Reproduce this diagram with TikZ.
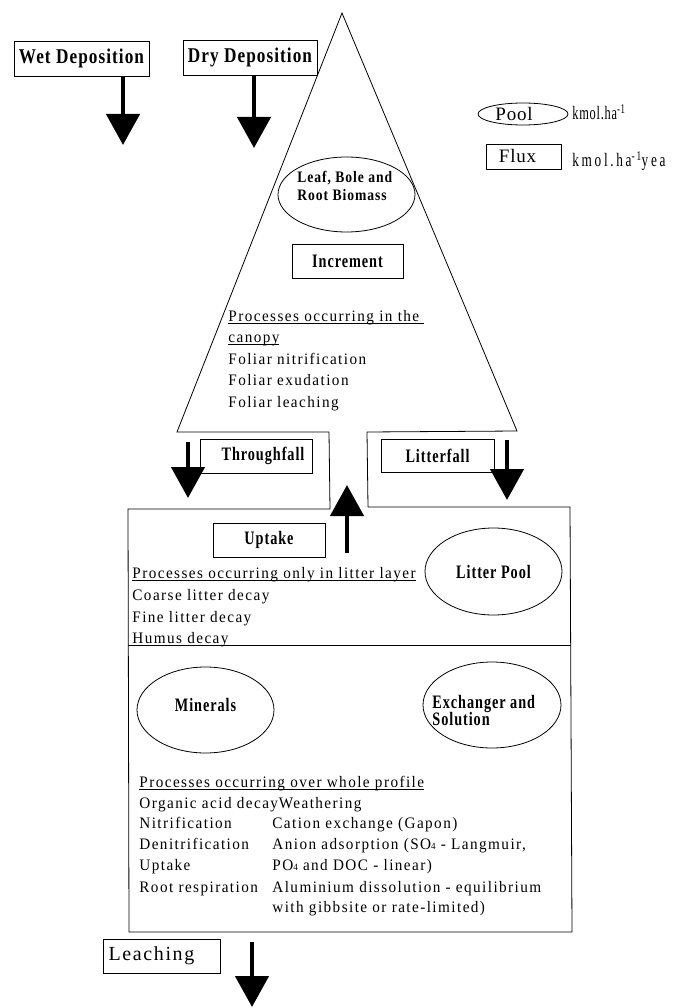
\documentclass[tikz,border=0pt]{standalone}
\usepackage{fontspec}
\setmainfont{Liberation Serif}
\usetikzlibrary{arrows.meta,shapes.geometric}
\newfontfamily\bodyf[FakeStretch=0.95,LetterSpace=9]{Liberation Serif}
\newfontfamily\labf[FakeStretch=0.75,LetterSpace=5]{Liberation Serif}
\newfontfamily\depf[FakeStretch=0.82,LetterSpace=5]{Liberation Serif}
\newfontfamily\biof[FakeStretch=0.85,LetterSpace=6]{Liberation Serif}
\newfontfamily\legf[LetterSpace=4]{Liberation Serif}
\newfontfamily\unitf[FakeStretch=0.65,LetterSpace=4]{Liberation Serif}
\newfontfamily\unitwf[FakeStretch=0.7,LetterSpace=14]{Liberation Serif}
\newfontfamily\leachf[LetterSpace=8]{Liberation Serif}
\newcommand\myul[1]{\sbox0{#1}\rlap{\rule[-2.2pt]{\wd0}{0.7pt}}\usebox0}
\newcommand\lowfour{{\fontsize{9.5}{9.5}\selectfont 4}}
\begin{document}
\begin{tikzpicture}[x=1pt,y=-1pt,line width=0.8pt,
  box/.style={draw,rectangle,inner sep=0pt},
  pool/.style={draw,ellipse,inner sep=0pt},
  bigarrow/.style={line width=4.5pt,-{Triangle[width=33pt,length=31pt]}},
  txt/.style={anchor=base west,inner sep=0pt,font=\bodyf\fontsize{16}{18}\selectfont},
  lab/.style={font=\labf\bfseries\fontsize{19}{21}\selectfont},
  dep/.style={font=\depf\bfseries\fontsize{21}{24}\selectfont},
  biotxt/.style={anchor=base west,inner sep=0pt,font=\biof\bfseries\fontsize{16}{18}\selectfont},
  leg/.style={font=\legf\fontsize{19}{21}\selectfont},
  unit/.style={anchor=base west,inner sep=0pt,font=\unitf\fontsize{19}{21}\selectfont}]
\useasboundingbox (0,0) rectangle (677,1008);
\fill[white] (0,0) rectangle (677,1008);

% main outline (canopy triangle + soil box with channel)
\draw (342,13) -- (177,432) -- (329,432) -- (330,509) -- (128,509) -- (129,932)
  -- (572,932) -- (570,507) -- (368,507) -- (367,432) -- (517,431) -- cycle;
\draw (128,645) -- (571,645);

% deposition
\node[box,dep,minimum width=135pt,minimum height=35pt] (wet) at (81.5,58.5) {Wet Deposition};
\node[box,dep,minimum width=134pt,minimum height=35pt] (dry) at (250,57.5) {Dry Deposition};
\coordinate (wetS) at (123,76);  \coordinate (wetE) at (123,145);
\coordinate (dryS) at (254,75);  \coordinate (dryE) at (254,148);
\draw[bigarrow] (wetS) -- (wetE);
\draw[bigarrow] (dryS) -- (dryE);

% legend
\node[pool,leg,minimum width=90pt,minimum height=22pt] (lpool) at (523,114) {Pool\hspace*{18pt}};
\node[box,leg,minimum width=75pt,minimum height=25pt] (lflux) at (523.5,156.5) {Flux\hspace*{12pt}};
\node[unit] (u1) at (572,120) {kmol.ha\textsuperscript{-1}};
\node[unit,font=\unitwf\fontsize{19}{21}\selectfont] (u2) at (572,167) {kmol.ha\textsuperscript{-1}yea};

% canopy
\node[pool,minimum width=137pt,minimum height=75pt] (bio) at (346.5,194.5) {};
\node[biotxt] (biot1) at (297,183) {Leaf, Bole and};
\node[biotxt] (biot2) at (297,201) {Root Biomass};
\node[box,lab,minimum width=111pt,minimum height=34pt] (incr) at (347.5,261) {Increment};
\node[txt] (c1) at (228,321) {\myul{Processes occurring in the }};
\node[txt] (c2) at (228,342) {\myul{canopy}};
\node[txt] (c3) at (228,364) {Foliar nitrification};
\node[txt] (c4) at (228,385) {Foliar exudation};
\node[txt] (c5) at (228,407) {Foliar leaching};

% throughfall / litterfall / uptake
\node[box,lab,minimum width=112pt,minimum height=34pt] (thr) at (256,456) {\hspace*{14pt}Throughfall};
\node[box,lab,minimum width=113pt,minimum height=33pt] (ltf) at (437.5,455.5) {Litterfall};
\coordinate (thrS) at (188,442); \coordinate (thrE) at (188,498);
\coordinate (ltfS) at (507,440); \coordinate (ltfE) at (507,500);
\coordinate (upS) at (347,553);  \coordinate (upE) at (347,485);
\draw[bigarrow] (thrS) -- (thrE);
\draw[bigarrow] (ltfS) -- (ltfE);
\draw[bigarrow] (upS) -- (upE);
\node[box,lab,minimum width=112pt,minimum height=34pt] (upt) at (269,540) {Uptake};

% litter layer
\node[pool,lab,minimum width=137pt,minimum height=87pt] (litter) at (493.5,571.5) {Litter Pool};
\node[txt] (l1) at (132,578) {\myul{Processes occurring only in litter layer}};
\node[txt] (l2) at (132,600) {Coarse litter decay};
\node[txt] (l3) at (132,622) {Fine litter decay};
\node[txt] (l4) at (132,643) {Humus decay};

% whole profile
\node[pool,lab,minimum width=137pt,minimum height=86pt] (min) at (205.5,710) {\raisebox{10pt}{Minerals}};
\node[pool,minimum width=138pt,minimum height=86pt] (exch) at (492,705) {};
\node[anchor=base west,inner sep=0pt,lab] (ex1) at (432,708) {Exchanger and};
\node[anchor=base west,inner sep=0pt,lab] (ex2) at (432,725) {Solution};

\node[txt] (p0) at (139,787) {\myul{Processes occurring over whole profile}};
\node[txt] (p1) at (139,808) {Organic acid decay};
\node[txt] (p2) at (139,828) {Nitrification};
\node[txt] (p3) at (139,849) {Denitrification};
\node[txt] (p4) at (139,870) {Uptake};
\node[txt] (p5) at (139,892) {Root respiration};
\node[txt] (q1) at (p1.base east) {Weathering};
\node[txt] (q2) at (272,828) {Cation exchange (Gapon)};
\node[txt] (q3) at (272,849) {Anion adsorption (SO\lowfour{} - Langmuir,};
\node[txt] (q4) at (272,870) {PO\lowfour{} and DOC - linear)};
\node[txt] (q5) at (272,892) {Aluminium dissolution - equilibrium};
\node[txt] (q6) at (272,912) {with gibbsite or rate-limited)};

% leaching
\node[box,font=\leachf\fontsize{20}{22}\selectfont,minimum width=117pt,minimum height=34pt] (leach) at (161.5,956) {Leaching\hspace*{20pt}};
\coordinate (leS) at (252,942); \coordinate (leE) at (252,1007);
\draw[bigarrow] (leS) -- (leE);
\end{tikzpicture}
\end{document}
